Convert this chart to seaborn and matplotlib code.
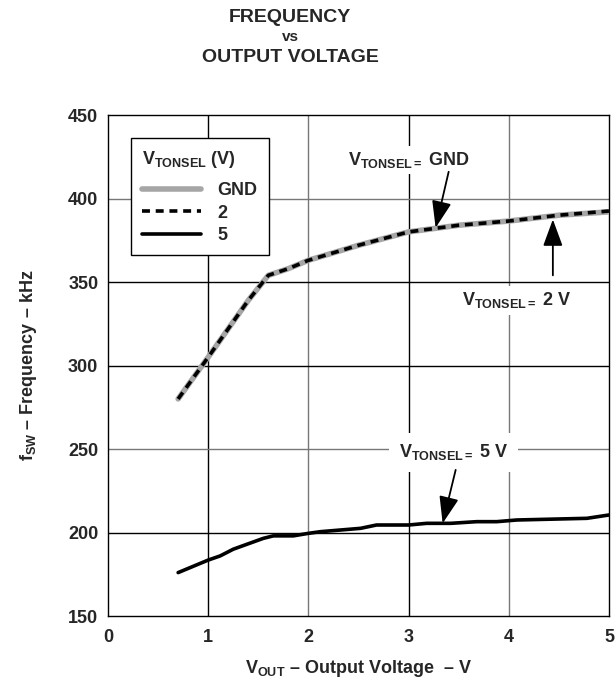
import pandas as pd
import seaborn as sns
from matplotlib import pyplot as plt

# output voltage (V) vs switching frequency (kHz)
vout_gnd = [0.7, 1.0, 1.2, 1.4, 1.6, 1.8, 2.0, 2.5, 3.0, 3.5, 4.0, 4.5, 5.0]
freq_gnd = [280, 305, 322, 339, 354, 358, 363, 372, 380, 384, 386.5, 390, 392]

vout_2v = [0.7, 1.0, 1.2, 1.4, 1.6, 1.8, 2.0, 2.5, 3.0, 3.5, 4.0, 4.5, 5.0]
freq_2v = [280, 305, 322, 339, 354, 358, 363, 372, 380, 384, 386.5, 390, 392.5]

vout_5v = [0.7, 1.0, 1.12, 1.25, 1.55, 1.65, 1.85, 2.0, 2.12, 2.52, 2.68, 3.0,
           3.18, 3.42, 3.68, 3.88, 4.08, 4.78, 5.0]
freq_5v = [176, 183.5, 186, 190, 196.5, 198, 198, 199.5, 200.5, 202.5, 204.5, 204.5,
           205.5, 205.5, 206.5, 206.5, 207.5, 208.5, 210.5]

x_ticks = [0, 1, 2, 3, 4, 5]
y_ticks = [150, 200, 250, 300, 350, 400, 450]

sns.set_theme(style='white')
plt.rcParams['font.family'] = ['Liberation Sans', 'DejaVu Sans']
plt.rcParams['font.weight'] = 'bold'
plt.rcParams['mathtext.fontset'] = 'custom'
plt.rcParams['mathtext.rm'] = 'Liberation Sans:bold'
plt.rcParams['mathtext.bf'] = 'Liberation Sans:bold'
plt.rcParams['mathtext.it'] = 'Liberation Sans:bold'

FS = 13

fig = plt.figure(figsize=(6.15, 6.92), dpi=100)
ax = fig.add_axes([0.1756, 0.1098, 0.8146, 0.724])

# grid like the datasheet (alternating dark / grey lines)
for xv, c in zip([1, 2, 3, 4], ['black', '#777777', 'black', '#777777']):
    ax.axvline(xv, color=c, lw=1.0, zorder=0)
for yv, c in zip([200, 250, 300, 350, 400], ['black', '#777777', 'black', 'black', '#777777']):
    ax.axhline(yv, color=c, lw=1.0, zorder=0)

df_gnd = pd.DataFrame({'v': vout_gnd, 'f': freq_gnd})
df_2v = pd.DataFrame({'v': vout_2v, 'f': freq_2v})
df_5v = pd.DataFrame({'v': vout_5v, 'f': freq_5v})

sns.lineplot(data=df_gnd, x='v', y='f', ax=ax, color='#a6a6a6', lw=4, label='GND', zorder=3)
sns.lineplot(data=df_2v, x='v', y='f', ax=ax, color='black', lw=2.6, label='2',
             zorder=4, linestyle=(0, (2.2, 1.6)))
sns.lineplot(data=df_5v, x='v', y='f', ax=ax, color='black', lw=2.6, label='5', zorder=3)

ax.set_xlim(0, 5)
ax.set_ylim(150, 450)
ax.set_xticks(x_ticks)
ax.set_yticks(y_ticks)
ax.set_xticklabels([str(t) for t in x_ticks], fontsize=FS, fontweight='bold')
ax.set_yticklabels([str(t) for t in y_ticks], fontsize=FS, fontweight='bold')
ax.tick_params(axis='x', length=0, pad=9)
ax.tick_params(axis='y', length=0, pad=7)
for s in ax.spines.values():
    s.set_color('black')
    s.set_linewidth(1.0)

ax.set_xlabel(r'$\mathbf{V_{OUT}}$ – Output Voltage  – V', fontsize=FS, fontweight='bold', labelpad=9)
ax.set_ylabel(r'$\mathbf{f_{SW}}$ – Frequency – kHz', fontsize=FS, fontweight='bold', labelpad=21)

leg = ax.legend(title=r'$\mathbf{V_{TONSEL}}$ (V)', loc='upper left',
                bbox_to_anchor=(0.046, 0.954), borderaxespad=0, fancybox=False,
                framealpha=1, edgecolor='black', prop={'size': FS, 'weight': 'bold'},
                title_fontsize=FS, handlelength=3.3, handletextpad=0.9, labelspacing=0.3,
                borderpad=0.6)
leg.get_title().set_fontweight('bold')
leg._legend_box.align = 'left'
leg._legend_box.sep = 9
leg.get_frame().set_linewidth(1.0)

box = dict(facecolor='white', edgecolor='none', pad=3)
arrow = dict(arrowstyle='-|>,head_length=1.5,head_width=0.55', color='black', lw=1.3,
             mutation_scale=11, shrinkA=0, shrinkB=0)

ax.annotate('', xy=(3.27, 382.5), xytext=(3.40, 416), arrowprops=arrow, zorder=6)
ax.text(3.0, 423, r'$\mathbf{V_{TONSEL=}}$ GND', fontsize=FS, fontweight='bold',
        ha='center', va='center', bbox=box, zorder=5)

ax.annotate('', xy=(4.44, 387.5), xytext=(4.44, 354), arrowprops=arrow, zorder=6)
ax.text(4.08, 339, r'$\mathbf{V_{TONSEL=}}$ 2 V', fontsize=FS, fontweight='bold',
        ha='center', va='center', bbox=box, zorder=5)

ax.annotate('', xy=(3.34, 205.5), xytext=(3.47, 237.5), arrowprops=arrow, zorder=6)
ax.text(3.45, 248, r'$\mathbf{V_{TONSEL=}}$ 5 V', fontsize=FS, fontweight='bold',
        ha='center', va='center', bbox=dict(facecolor='white', edgecolor='none', pad=7), zorder=5)

fig.text(0.472, 0.975, 'FREQUENCY', ha='center', va='center', fontsize=14, fontweight='bold')
fig.text(0.472, 0.947, 'vs', ha='center', va='center', fontsize=11, fontweight='bold')
fig.text(0.472, 0.917, 'OUTPUT VOLTAGE', ha='center', va='center', fontsize=14, fontweight='bold')

fig.savefig('out.png', dpi=100, facecolor='white')
